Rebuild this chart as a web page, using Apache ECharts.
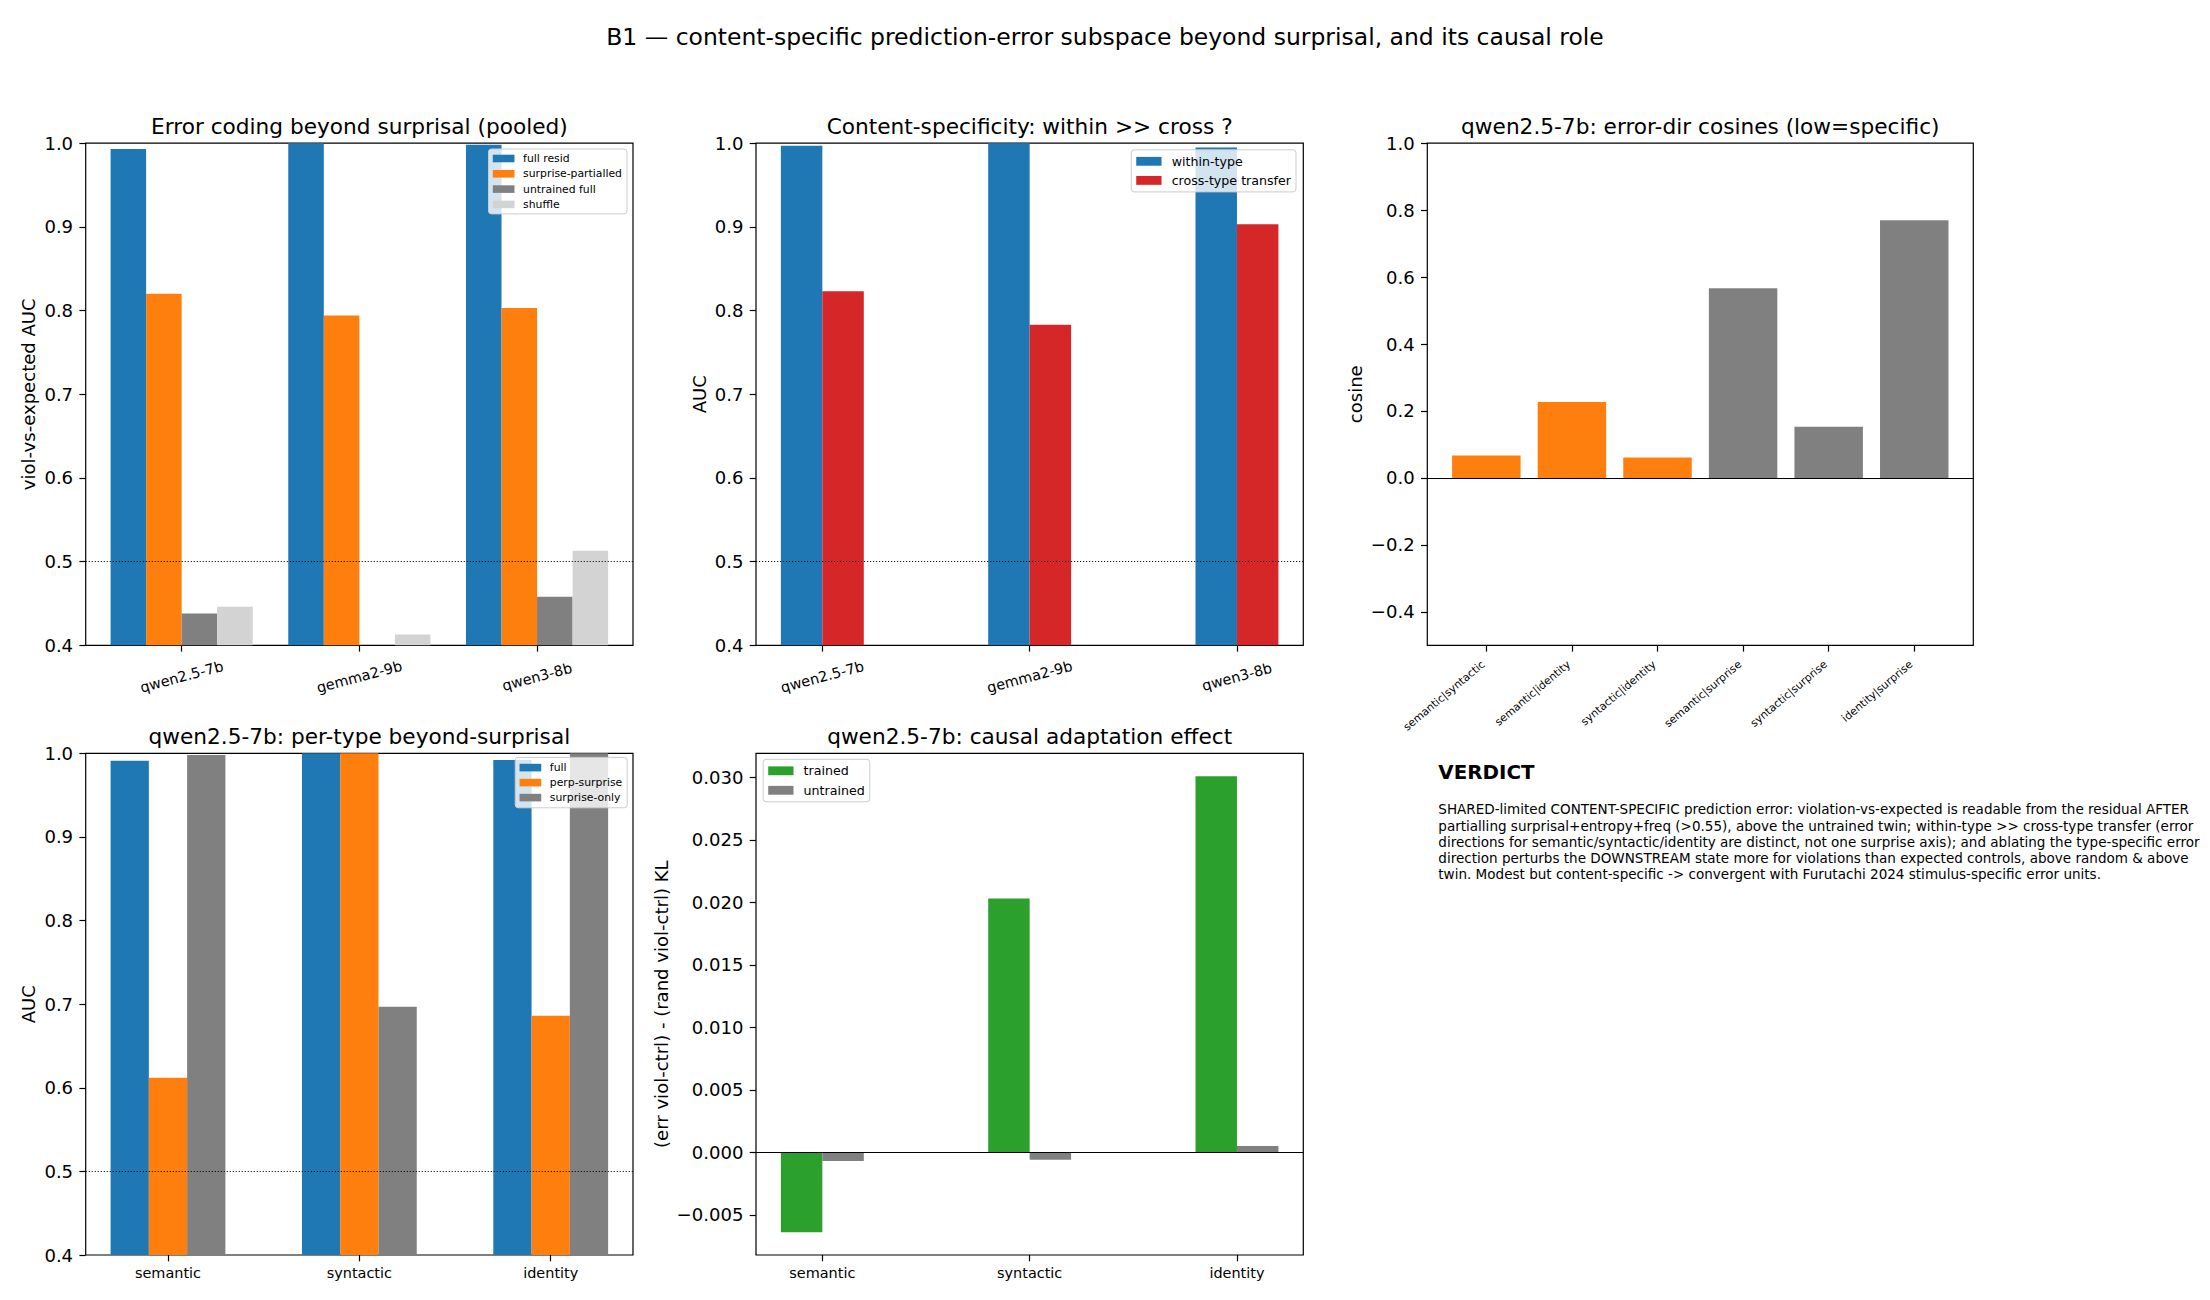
<!DOCTYPE html>
<html>
<head>
<meta charset="utf-8">
<script src="https://cdn.jsdelivr.net/npm/echarts@6.0.0/dist/echarts.min.js"></script>
<style>
html,body{margin:0;padding:0;background:#ffffff;}
#chart{width:2210px;height:1300px;}
</style>
</head>
<body>
<div id="chart"></div>
<script>
// ---------------- data ----------------
const models = ['qwen2.5-7b', 'gemma2-9b', 'qwen3-8b'];
const pooledFullResid = [0.993, 1.000, 0.998];
const pooledSurprisePartialled = [0.820, 0.794, 0.803];
const pooledUntrainedFull = [0.438, 0.380, 0.458];
const pooledShuffle = [0.446, 0.413, 0.513];

const withinType = [0.997, 1.000, 0.995];
const crossTypeTransfer = [0.823, 0.783, 0.903];

const cosinePairs = ['semantic|syntactic', 'semantic|identity', 'syntactic|identity',
                     'semantic|surprise', 'syntactic|surprise', 'identity|surprise'];
const cosineValues = [0.067, 0.227, 0.061, 0.567, 0.153, 0.770];

const errorTypes = ['semantic', 'syntactic', 'identity'];
const perTypeFull = [0.991, 1.000, 0.992];
const perTypePerpSurprise = [0.612, 1.000, 0.686];
const perTypeSurpriseOnly = [0.998, 0.697, 1.000];

const causalTrained = [-0.0064, 0.0203, 0.0301];
const causalUntrained = [-0.0007, -0.0006, 0.0005];

const aucTicks = [0.4, 0.5, 0.6, 0.7, 0.8, 0.9, 1.0];
const cosineTicks = [-0.4, -0.2, 0.0, 0.2, 0.4, 0.6, 0.8, 1.0];
const causalTicks = [-0.005, 0.000, 0.005, 0.010, 0.015, 0.020, 0.025, 0.030];

const suptitle = 'B1 \u2014 content-specific prediction-error subspace beyond surprisal, and its causal role';
const panelTitles = [
  'Error coding beyond surprisal (pooled)',
  'Content-specificity: within >> cross ?',
  'qwen2.5-7b: error-dir cosines (low=specific)',
  'qwen2.5-7b: per-type beyond-surprisal',
  'qwen2.5-7b: causal adaptation effect'
];
const yLabels = ['viol-vs-expected AUC', 'AUC', 'cosine', 'AUC', '(err viol-ctrl) - (rand viol-ctrl) KL'];
const verdictHeading = 'VERDICT';
const verdictLines = [
  'SHARED-limited CONTENT-SPECIFIC prediction error: violation-vs-expected is readable from the residual AFTER',
  'partialling surprisal+entropy+freq (>0.55), above the untrained twin; within-type >> cross-type transfer (error',
  'directions for semantic/syntactic/identity are distinct, not one surprise axis); and ablating the type-specific error',
  'direction perturbs the DOWNSTREAM state more for violations than expected controls, above random & above',
  'twin. Modest but content-specific -> convergent with Furutachi 2024 stimulus-specific error units.'
];

// ---------------- layout / style ----------------
const FONT = 'DejaVu Sans';
const C0 = '#1f77b4', C1 = '#ff7f0e', C2 = '#2ca02c', C3 = '#d62728', GRAY = '#808080', LGRAY = '#d3d3d3';
const grids = [
  {left: 85.7,   top: 143.2, width: 547.3, height: 502.1},
  {left: 756.0,  top: 143.2, width: 547.3, height: 502.1},
  {left: 1427.3, top: 143.2, width: 546.0, height: 502.1},
  {left: 85.7,   top: 753.3, width: 547.3, height: 501.7},
  {left: 756.0,  top: 753.3, width: 547.3, height: 501.7}
];
const xRanges = [[-0.54, 2.54], [-0.32, 2.32], [-0.69, 5.69], [-0.43, 2.43], [-0.32, 2.32]];
const yRanges = [[0.4, 1.0], [0.4, 1.0], [-0.5, 1.0], [0.4, 1.0], [-0.00822, 0.03193]];
const yNameGaps = [48, 48, 63, 48, 86];

function unitPx(i) { return grids[i].width / (xRanges[i][1] - xRanges[i][0]); }
function fmt(d) { return v => (v < -1e-12 ? '\u2212' + Math.abs(v).toFixed(d) : Math.abs(v).toFixed(d)); }

function makeXAxis(i, cats, labelOpts) {
  const pos = cats.map((_, k) => k);
  return {
    type: 'value', gridIndex: i, min: xRanges[i][0], max: xRanges[i][1], position: 'bottom',
    splitLine: {show: false}, axisLine: {show: false, onZero: false},
    axisTick: {show: true, customValues: pos, length: 6.3, lineStyle: {color: '#000', width: 1.2}},
    axisLabel: Object.assign({customValues: pos, formatter: v => cats[Math.round(v)],
      color: '#000', fontFamily: FONT}, labelOpts)
  };
}
function makeYAxis(i, ticks, decimals) {
  return {
    type: 'value', gridIndex: i, min: yRanges[i][0], max: yRanges[i][1], position: 'left',
    splitLine: {show: false}, axisLine: {show: false, onZero: false},
    axisTick: {show: true, customValues: ticks, length: 6.3, lineStyle: {color: '#000', width: 1.2}},
    axisLabel: {customValues: ticks, formatter: fmt(decimals), color: '#000', fontFamily: FONT,
      fontSize: 18.06, margin: 12.6},
    name: yLabels[i], nameLocation: 'middle', nameGap: yNameGaps[i], nameMoveOverlap: false,
    nameTextStyle: {fontSize: 18.06, color: '#000', fontFamily: FONT}
  };
}
function bars(i, name, values, offset, widthUnits, color, extra) {
  return Object.assign({
    type: 'bar', name: name, xAxisIndex: i, yAxisIndex: i, barGap: '-100%',
    barWidth: widthUnits * unitPx(i),
    data: values.map((v, k) => [k + offset, v]),
    itemStyle: {color: color}, clip: true, animation: false, silent: true
  }, extra || {});
}
const dottedHalf = {silent: true, symbol: ['none', 'none'], label: {show: false}, animation: false,
  lineStyle: {color: '#000', width: 0.9, type: [1.2, 1.8]}, data: [{yAxis: 0.5}]};
const zeroLine = {silent: true, symbol: ['none', 'none'], label: {show: false}, animation: false,
  lineStyle: {color: '#000', width: 1.1, type: 'solid'}, data: [{yAxis: 0}]};

function legend(names, pos, fs, iw, ih, gap, pad, textGap) {
  return Object.assign({
    orient: 'vertical', data: names, icon: 'rect', itemWidth: iw, itemHeight: ih, itemGap: gap,
    padding: pad, backgroundColor: 'rgba(255,255,255,0.8)', borderColor: '#cccccc', borderWidth: 1,
    borderRadius: 3, selectedMode: false,
    textStyle: {fontSize: fs, lineHeight: Math.round(fs), color: '#000', fontFamily: FONT, padding: [0, 0, 0, textGap]}
  }, pos);
}

function txt(x, y, text, font, align, valign, extra) {
  return {type: 'text', x: x, y: y, silent: true,
    style: Object.assign({text: text, font: font, fill: '#000', align: align, verticalAlign: valign,
      textAlign: align, textVerticalAlign: valign}, extra || {})};
}

const rotLabel15 = {fontSize: 14.44, rotate: 15, align: 'center', verticalAlign: 'middle', margin: 31.5};
const flatLabel = {fontSize: 14.44, margin: 11};

const option = {
  backgroundColor: '#ffffff',
  animation: false,
  grid: grids.map(g => Object.assign({show: true, borderColor: '#000', borderWidth: 1.2,
    backgroundColor: 'transparent', containLabel: false, outerBoundsMode: 'none'}, g)),
  xAxis: [
    makeXAxis(0, models, rotLabel15),
    makeXAxis(1, models, rotLabel15),
    makeXAxis(2, cosinePairs, {fontSize: 10.83, rotate: 40, margin: 15, padding: [0, 4, 0, 0]}),
    makeXAxis(3, errorTypes, flatLabel),
    makeXAxis(4, errorTypes, flatLabel)
  ],
  yAxis: [
    makeYAxis(0, aucTicks, 1),
    makeYAxis(1, aucTicks, 1),
    makeYAxis(2, cosineTicks, 1),
    makeYAxis(3, aucTicks, 1),
    makeYAxis(4, causalTicks, 3)
  ],
  legend: [
    legend(['full resid', 'surprise-partialled', 'untrained full', 'shuffle'],
      {right: 2210 - 627, top: 149}, 10.83, 21.7, 7.6, 4.3, [4, 5, 4, 4.3], 3.6),
    legend(['within-type', 'cross-type transfer'],
      {right: 2210 - 1296, top: 149.8}, 12.64, 25.3, 8.85, 6.1, [5, 5, 5, 5], 5.1),
    legend(['full', 'perp-surprise', 'surprise-only'],
      {right: 2210 - 627.2, top: 757.4}, 10.83, 21.7, 7.6, 4.0, [4.7, 5, 4.7, 4.3], 3.6),
    legend(['trained', 'untrained'],
      {left: 763.2, top: 759.3}, 12.64, 25.3, 8.85, 6.5, [5, 5, 5, 5], 5.1)
  ],
  series: [
    bars(0, 'full resid', pooledFullResid, -0.3, 0.2, C0, {markLine: dottedHalf}),
    bars(0, 'surprise-partialled', pooledSurprisePartialled, -0.1, 0.2, C1),
    bars(0, 'untrained full', pooledUntrainedFull, 0.1, 0.2, GRAY),
    bars(0, 'shuffle', pooledShuffle, 0.3, 0.2, LGRAY),

    bars(1, 'within-type', withinType, -0.1, 0.2, C0, {markLine: dottedHalf}),
    bars(1, 'cross-type transfer', crossTypeTransfer, 0.1, 0.2, C3),

    {
      type: 'bar', name: 'cosine', xAxisIndex: 2, yAxisIndex: 2, barWidth: 0.8 * unitPx(2),
      data: cosineValues.map((v, k) => ({value: [k, v],
        itemStyle: {color: cosinePairs[k].indexOf('surprise') >= 0 ? GRAY : C1}})),
      clip: true, animation: false, silent: true, markLine: zeroLine
    },

    bars(3, 'full', perTypeFull, -0.2, 0.2, C0, {markLine: dottedHalf}),
    bars(3, 'perp-surprise', perTypePerpSurprise, 0.0, 0.2, C1),
    bars(3, 'surprise-only', perTypeSurpriseOnly, 0.2, 0.2, GRAY),

    bars(4, 'trained', causalTrained, -0.1, 0.2, C2),
    bars(4, 'untrained', causalUntrained, 0.1, 0.2, GRAY, {markLine: zeroLine})
  ],
  graphic: [
    txt(1105, 36.5, suptitle, '23.47px "DejaVu Sans"', 'center', 'middle'),
    txt(grids[0].left + grids[0].width / 2, 126.6, panelTitles[0], '21.67px "DejaVu Sans"', 'center', 'middle'),
    txt(grids[1].left + grids[1].width / 2, 126.6, panelTitles[1], '21.67px "DejaVu Sans"', 'center', 'middle'),
    txt(grids[2].left + grids[2].width / 2, 126.6, panelTitles[2], '21.67px "DejaVu Sans"', 'center', 'middle'),
    txt(grids[3].left + grids[3].width / 2, 736.7, panelTitles[3], '21.67px "DejaVu Sans"', 'center', 'middle'),
    txt(grids[4].left + grids[4].width / 2, 736.7, panelTitles[4], '21.67px "DejaVu Sans"', 'center', 'middle'),
    txt(1438.3, 772.6, verdictHeading, 'bold 19.86px "DejaVu Sans"', 'left', 'middle'),
    txt(1438.3, 801.2, verdictLines.join('\n'), '13.54px "DejaVu Sans"', 'left', 'top', {lineHeight: 16.25})
  ]
};

const chart = echarts.init(document.getElementById('chart'), null, {renderer: 'svg'});
chart.setOption(option);
</script>
</body>
</html>
